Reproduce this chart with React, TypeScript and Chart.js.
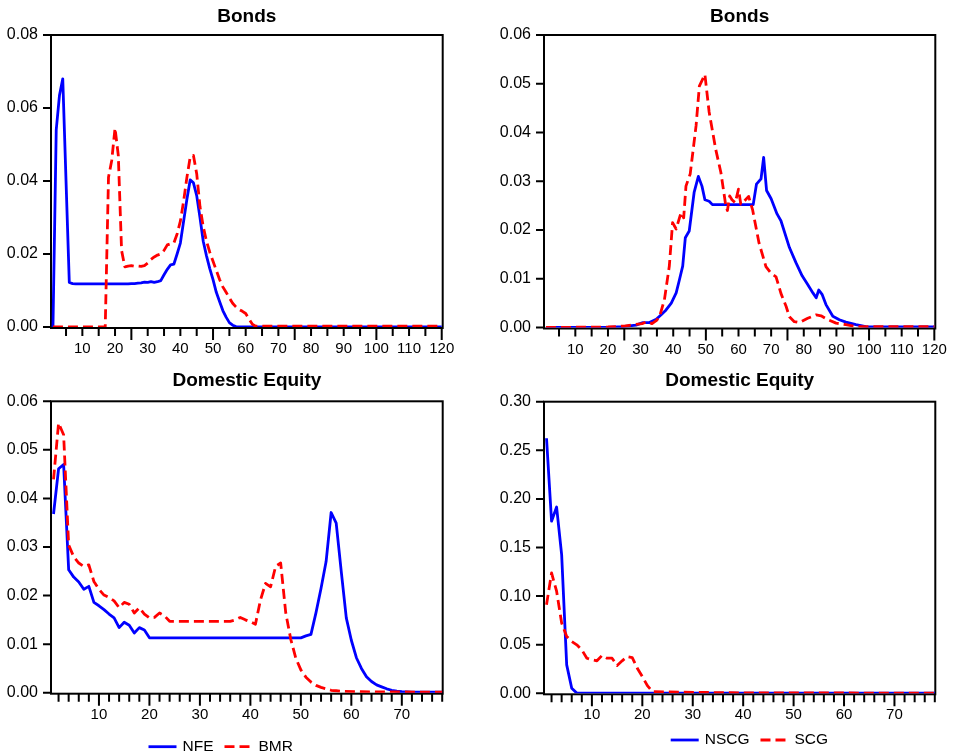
import React, { useEffect, useRef } from 'react';
import { Chart, registerables } from 'chart.js';

Chart.register(...registerables);

const FONT = "'Liberation Sans', Arial, Helvetica, sans-serif";
const BLUE = '#0000ff';
const RED = '#ff0000';

// ---------- Panel 1: Bonds (NFE vs BMR) ----------
const bondsNfeX = [1, 2, 3, 4, 5, 6, 7, 8, 24, 25, 26, 27, 28, 29, 30, 31, 32, 33, 34, 35, 36, 37, 38, 39, 40, 41, 42, 43, 44, 45, 46, 47, 48, 49, 50, 51, 52, 53, 54, 55, 56, 57, 58, 120];
const bondsNfeY = [0, 0.054, 0.0635, 0.068, 0.040, 0.0122, 0.0119, 0.0118, 0.0118, 0.0119, 0.0119, 0.0120, 0.0121, 0.0123, 0.0122, 0.0124, 0.0122, 0.0124, 0.0127, 0.0143, 0.0158, 0.0170, 0.0172, 0.0200, 0.0230, 0.0290, 0.0350, 0.0403, 0.0395, 0.0360, 0.0300, 0.0235, 0.0195, 0.0160, 0.0130, 0.0095, 0.0070, 0.0045, 0.0027, 0.0012, 0.0005, 0.0001, 0, 0];
const bondsBmrX = [1, 16, 17, 18, 19, 20, 21, 22, 23, 24, 25, 26, 27, 28, 29, 30, 31, 32, 33, 34, 35, 36, 37, 38, 39, 40, 41, 42, 43, 44, 45, 46, 47, 48, 49, 50, 51, 52, 53, 54, 55, 56, 57, 58, 59, 60, 61, 62, 63, 120];
const bondsBmrY = [0, 0, 0, 0.041, 0.0457, 0.0545, 0.047, 0.021, 0.0165, 0.0167, 0.0168, 0.0166, 0.0167, 0.0166, 0.0168, 0.0175, 0.0185, 0.0192, 0.0197, 0.0200, 0.0210, 0.0225, 0.0228, 0.0230, 0.0255, 0.0290, 0.0345, 0.0410, 0.0465, 0.0470, 0.0420, 0.0330, 0.0275, 0.0235, 0.0205, 0.0180, 0.0155, 0.0130, 0.0110, 0.0095, 0.0080, 0.0065, 0.0055, 0.0048, 0.0043, 0.0037, 0.0022, 0.0008, 0.0002, 0.0002];

// ---------- Panel 2: Bonds (NSCG vs SCG) ----------
const bondsNscgX = [1, 20, 24.5, 28.6, 30.7, 32.7, 34.8, 36.3, 37.8, 39.4, 40.9, 41.9, 42.9, 43.7, 44.9, 46.4, 47.7, 48.8, 49.7, 51, 52, 64.5, 65.5, 66.9, 67.7, 68.6, 70, 71.8, 73, 75.6, 77.6, 79.5, 81.2, 82.8, 83.8, 84.6, 85.6, 86.8, 88.9, 90.9, 92.9, 96, 99, 120];
const bondsNscgY = [0, 0, 0.0002, 0.0005, 0.0010, 0.0010, 0.0017, 0.0026, 0.0036, 0.0050, 0.0071, 0.0098, 0.0126, 0.0184, 0.0198, 0.0277, 0.0310, 0.0290, 0.0262, 0.0259, 0.0252, 0.0252, 0.0294, 0.0305, 0.0349, 0.0281, 0.0264, 0.0233, 0.0219, 0.0164, 0.0133, 0.0106, 0.0088, 0.0071, 0.0061, 0.0077, 0.0068, 0.0047, 0.0023, 0.0016, 0.0011, 0.0006, 0.0002, 0.0001];
const bondsScgX = [1, 20, 25, 28, 30.5, 32, 33.5, 35, 36, 37.3, 38.8, 39.8, 40.9, 42.4, 43.2, 43.9, 45.2, 47, 48, 49.7, 51, 53, 54.6, 56.1, 56.6, 57.3, 58, 59, 60, 60.7, 61.7, 63.1, 64.3, 66.3, 68.4, 70, 71.5, 73, 74.6, 75.6, 77.1, 78.6, 81.2, 83.8, 85.3, 87.4, 89.9, 92.9, 96, 120];
const bondsScgY = [0, 0.0001, 0.0003, 0.0006, 0.0008, 0.0012, 0.0008, 0.0015, 0.0027, 0.0057, 0.0126, 0.0215, 0.0202, 0.0236, 0.0225, 0.0290, 0.0315, 0.0414, 0.0495, 0.0519, 0.0442, 0.0366, 0.0318, 0.0250, 0.0240, 0.0270, 0.0262, 0.0256, 0.0284, 0.0253, 0.0259, 0.0269, 0.0242, 0.0173, 0.0125, 0.0111, 0.0104, 0.0070, 0.0043, 0.0022, 0.0012, 0.0010, 0.0019, 0.0026, 0.0024, 0.0016, 0.0009, 0.0006, 0.0002, 0.0002];

// ---------- Panel 3: Domestic Equity (NFE vs BMR) ----------
const equityNfeX = [1, 2, 3, 4, 5, 6, 7, 8, 9, 10, 11, 12, 13, 14, 15, 16, 17, 18, 19, 20, 50, 51, 52, 53, 54, 55, 56, 57, 58, 59, 60, 61, 62, 63, 64, 65, 66, 67, 68, 69, 70, 72, 78];
const equityNfeY = [0.0368, 0.0461, 0.0470, 0.0253, 0.0238, 0.0228, 0.0213, 0.0219, 0.0186, 0.0179, 0.0171, 0.0162, 0.0154, 0.0134, 0.0145, 0.0139, 0.0123, 0.0134, 0.0129, 0.0113, 0.0113, 0.0117, 0.0120, 0.0165, 0.0215, 0.0270, 0.0371, 0.0349, 0.0250, 0.0154, 0.0108, 0.0072, 0.0050, 0.0033, 0.0023, 0.0016, 0.0012, 0.0008, 0.0005, 0.0003, 0.0002, 0.0001, 0.0001];
const equityBmrX = [1, 2, 3, 4, 5, 6, 7, 8, 9, 10, 11, 12, 13, 14, 15, 16, 17, 18, 19, 20, 21, 22, 23, 24, 36, 37, 38, 39, 40, 41, 42, 43, 44, 45, 46, 47, 48, 49, 50, 51, 52, 53, 54, 55, 56, 57, 58, 62, 78];
const equityBmrY = [0.0439, 0.0555, 0.0531, 0.0304, 0.0280, 0.0267, 0.0260, 0.0263, 0.0229, 0.0213, 0.0201, 0.0196, 0.0189, 0.0175, 0.0186, 0.0182, 0.0164, 0.0175, 0.0162, 0.0154, 0.0155, 0.0164, 0.0158, 0.0147, 0.0147, 0.0150, 0.0155, 0.0150, 0.0146, 0.0141, 0.0191, 0.0225, 0.0218, 0.0260, 0.0267, 0.0165, 0.0110, 0.0071, 0.0047, 0.0032, 0.0022, 0.0015, 0.0011, 0.0008, 0.0005, 0.0004, 0.0003, 0.0002, 0.0001];

// ---------- Panel 4: Domestic Equity (NSCG vs SCG) ----------
const equityNscgX = [1, 2, 3, 4, 5, 6, 7, 78];
const equityNscgY = [0.2624, 0.1771, 0.1916, 0.1427, 0.0292, 0.0052, 0.0002, 0.0001];
const equityScgX = [1, 2, 3, 4, 5, 6, 7, 8, 9, 10, 11, 12, 13, 14, 15, 16, 17, 18, 19, 20, 21, 22, 28, 40, 78];
const equityScgY = [0.0911, 0.1238, 0.1050, 0.0723, 0.0585, 0.0533, 0.0499, 0.0447, 0.0361, 0.0344, 0.0334, 0.0389, 0.0361, 0.0361, 0.0286, 0.0334, 0.0378, 0.0368, 0.0258, 0.0172, 0.0079, 0.0017, 0.0012, 0.0004, 0.0002];

// ---------- Tick labels ----------
const bondsXTicks = [10, 20, 30, 40, 50, 60, 70, 80, 90, 100, 110, 120];
const equityXTicks = [10, 20, 30, 40, 50, 60, 70];

type Series = { label: string; x: number[]; y: number[]; color: string; dash: number[] };

type PanelProps = {
  left: number; top: number; width: number; height: number;
  title: string; series: Series[];
  yMax: number; yStep: number;
  xMin: number; xMax: number; xTicks: number[];
  xMinor: number; xMajor: number; longAtMax: boolean;
  yW: number; padR: number; xH: number; tTop: number; tBot: number;
  legend?: { x: number; y: number };
};

const axesPlugin = {
  id: 'evAxes',
  beforeDatasetsDraw(chart: any, _args: any, o: any) {
    const { ctx, chartArea: a } = chart;
    const xs = chart.scales.x;
    const ys = chart.scales.y;
    ctx.save();
    ctx.strokeStyle = '#000';
    ctx.lineWidth = 2;
    ctx.strokeRect(a.left, a.top, a.right - a.left, a.bottom + 1 - a.top);
    ctx.beginPath();
    const n = Math.floor(xs.max / o.minor);
    for (let k = 1; k <= n; k++) {
      const v = k * o.minor;
      const px = xs.getPixelForValue(v);
      const isLong = (v % o.major === 0) || (o.longAtMax && k === n);
      ctx.moveTo(px, a.bottom + 1);
      ctx.lineTo(px, a.bottom + 1 + (isLong ? 12 : 8));
    }
    ys.ticks.forEach((t: any) => {
      const py = ys.getPixelForValue(t.value);
      ctx.moveTo(a.left, py);
      ctx.lineTo(a.left - 8, py);
    });
    ctx.stroke();
    ctx.restore();
  },
};

const legendPlugin = {
  id: 'lineLegend',
  afterDraw(chart: any, _args: any, o: any) {
    if (!o || !o.show) return;
    const { ctx } = chart;
    ctx.save();
    ctx.font = `15.5px ${FONT}`;
    ctx.textBaseline = 'middle';
    ctx.textAlign = 'left';
    let x = o.x;
    chart.data.datasets.forEach((ds: any) => {
      ctx.strokeStyle = ds.borderColor;
      ctx.lineWidth = ds.borderWidth;
      ctx.setLineDash(ds.borderDash || []);
      ctx.beginPath();
      ctx.moveTo(x, o.y);
      ctx.lineTo(x + 28, o.y);
      ctx.stroke();
      ctx.setLineDash([]);
      ctx.fillStyle = '#000';
      ctx.fillText(ds.label, x + 34, o.y);
      x += 34 + ctx.measureText(ds.label).width + 11;
    });
    ctx.restore();
  },
};

function Panel(p: PanelProps) {
  const ref = useRef<HTMLCanvasElement | null>(null);
  useEffect(() => {
    if (!ref.current) return;
    const chart = new Chart(ref.current, {
      type: 'line',
      data: {
        datasets: p.series.map((s, i) => ({
          label: s.label,
          data: s.x.map((xv, j) => ({ x: xv, y: s.y[j] })),
          borderColor: s.color,
          backgroundColor: s.color,
          borderWidth: 2.8,
          borderDash: s.dash,
          borderJoinStyle: 'round',
          pointRadius: 0,
          tension: 0,
          fill: false,
          order: i === 0 ? 1 : 0,
        })),
      },
      options: {
        responsive: false,
        animation: false,
        devicePixelRatio: 1,
        layout: { padding: { left: 0, right: p.padR, top: 0, bottom: 0 } },
        plugins: {
          legend: { display: false },
          tooltip: { enabled: false },
          title: {
            display: true,
            text: p.title,
            fullSize: false,
            color: '#000',
            font: { family: FONT, size: 19, weight: 'bold' },
            padding: { top: p.tTop, bottom: p.tBot },
          },
          evAxes: { minor: p.xMinor, major: p.xMajor, longAtMax: p.longAtMax },
          lineLegend: p.legend ? { show: true, x: p.legend.x, y: p.legend.y } : { show: false },
        } as any,
        scales: {
          x: {
            type: 'linear',
            min: p.xMin,
            max: p.xMax,
            afterFit: (s: any) => { s.height = p.xH; s.paddingLeft = 0; s.paddingRight = 0; },
            afterBuildTicks: (s: any) => { s.ticks = p.xTicks.map((v) => ({ value: v })); },
            grid: { display: false, drawTicks: false },
            border: { display: false },
            ticks: {
              autoSkip: false,
              maxRotation: 0,
              padding: 13,
              color: '#000',
              font: { family: FONT, size: 15 },
              callback: (v: any) => String(v),
            },
          },
          y: {
            type: 'linear',
            min: 0,
            max: p.yMax,
            afterFit: (s: any) => { s.width = p.yW; s.paddingTop = 0; s.paddingBottom = 0; },
            grid: { display: false, drawTicks: false },
            border: { display: false },
            ticks: {
              stepSize: p.yStep,
              padding: 13,
              color: '#000',
              font: { family: FONT, size: 16 },
              callback: (v: any) => Number(v).toFixed(2),
            },
          },
        },
      } as any,
      plugins: [axesPlugin, legendPlugin],
    });
    return () => chart.destroy();
  }, []);
  return (
    <canvas
      ref={ref}
      width={p.width}
      height={p.height}
      style={{ position: 'absolute', left: p.left, top: p.top, width: p.width, height: p.height }}
    />
  );
}

export default function App() {
  const nfe = (x: number[], y: number[]): Series => ({ label: 'NFE', x, y, color: BLUE, dash: [] });
  const bmr = (x: number[], y: number[]): Series => ({ label: 'BMR', x, y, color: RED, dash: [10, 5] });
  const nscg = (x: number[], y: number[]): Series => ({ label: 'NSCG', x, y, color: BLUE, dash: [] });
  const scg = (x: number[], y: number[]): Series => ({ label: 'SCG', x, y, color: RED, dash: [10, 5] });
  return (
    <div style={{ position: 'absolute', left: 0, top: 0, width: 956, height: 752, overflow: 'hidden', background: '#fff' }}>
      <Panel left={0} top={0} width={478} height={365} title="Bonds"
        series={[nfe(bondsNfeX, bondsNfeY), bmr(bondsBmrX, bondsBmrY)]}
        yMax={0.08} yStep={0.02} xMin={0.4} xMax={120.3} xTicks={bondsXTicks}
        xMinor={5} xMajor={25} longAtMax={true}
        yW={51} padR={35.3} xH={38} tTop={5.3} tBot={6.9} />
      <Panel left={478} top={0} width={478} height={365} title="Bonds"
        series={[nscg(bondsNscgX, bondsNscgY), scg(bondsScgX, bondsScgY)]}
        yMax={0.06} yStep={0.01} xMin={0.4} xMax={120.3} xTicks={bondsXTicks}
        xMinor={5} xMajor={25} longAtMax={true}
        yW={66} padR={20.7} xH={37.5} tTop={5.3} tBot={6.9} />
      <Panel left={0} top={365} width={478} height={387} title="Domestic Equity"
        series={[nfe(equityNfeX, equityNfeY), bmr(equityBmrX, equityBmrY)]}
        yMax={0.06} yStep={0.01} xMin={0.5} xMax={78.1} xTicks={equityXTicks}
        xMinor={2} xMajor={10} longAtMax={false}
        yW={51} padR={35.3} xH={59.3} tTop={4.1} tBot={9.4}
        legend={{ x: 148.5, y: 381.7 }} />
      <Panel left={478} top={365} width={478} height={387} title="Domestic Equity"
        series={[nscg(equityNscgX, equityNscgY), scg(equityScgX, equityScgY)]}
        yMax={0.30} yStep={0.05} xMin={0.5} xMax={78.1} xTicks={equityXTicks}
        xMinor={2} xMajor={10} longAtMax={false}
        yW={66} padR={20.7} xH={58.7} tTop={4.1} tBot={9.8}
        legend={{ x: 192.7, y: 375 }} />
    </div>
  );
}
